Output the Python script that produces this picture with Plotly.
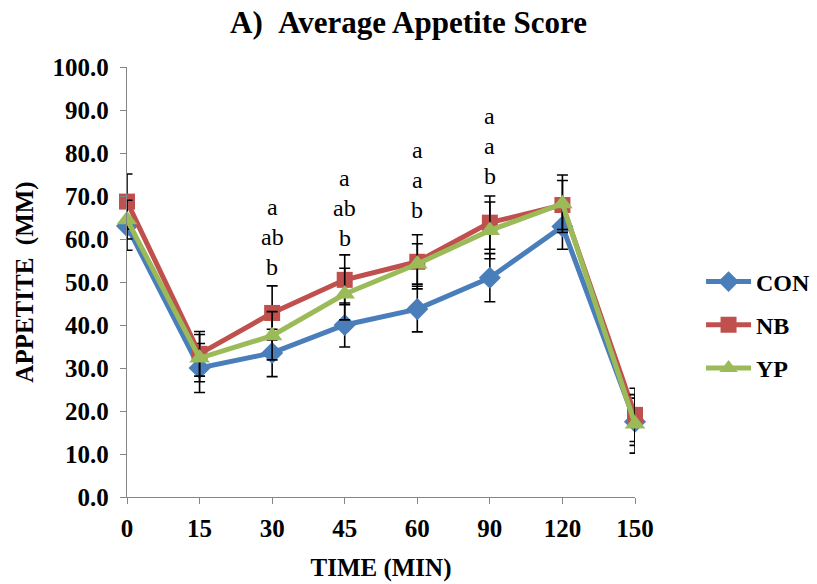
import plotly.graph_objects as go

# Sampling times (minutes) shown as evenly spaced categories
times = ["0", "15", "30", "45", "60", "90", "120", "150"]

# Mean appetite scores (mm) per group
con = [63.0, 30.0, 33.5, 40.0, 43.7, 51.0, 62.9, 17.5]
nb = [68.7, 33.3, 42.8, 50.5, 54.7, 63.8, 67.9, 19.1]
yp = [64.5, 32.3, 37.5, 47.2, 54.2, 62.0, 68.2, 17.0]

# Standard errors
con_se = [5.6, 5.7, 5.5, 5.1, 5.3, 5.6, 5.3, 5.5]
nb_se = [6.4, 5.2, 6.3, 5.8, 6.3, 6.2, 5.7, 6.2]
yp_se = [4.5, 5.5, 5.6, 6.0, 4.7, 6.6, 6.7, 6.8]

# Significance letters above selected time points (top to bottom)
sig_times = ["30", "45", "60", "90"]
sig_letters = [["a", "ab", "b"], ["a", "ab", "b"], ["a", "a", "b"], ["a", "a", "b"]]
sig_base = [53.5, 60.2, 66.7, 74.7]

series = [
    ("CON", con, con_se, "#4A7EBB", "diamond", 17),
    ("NB", nb, nb_se, "#C0504D", "square", 16),
    ("YP", yp, yp_se, "#9BBB59", "triangle-up", 18),
]

x_idx = list(range(len(times)))
serif = "Liberation Serif"

fig = go.Figure()
for name, vals, se, color, symbol, size in series:
    fig.add_trace(go.Scatter(
        x=x_idx, y=vals, name=name, mode="lines+markers",
        legendgroup=name,
        line=dict(color=color, width=5),
        marker=dict(symbol=symbol, size=size, color=color),
        error_y=dict(type="data", array=se, visible=True, color="black",
                     thickness=1.6, width=5.5),
        cliponaxis=False,
    ))

# Letters stacked above time points, spaced ~7 units apart
for t, letters, base in zip(sig_times, sig_letters, sig_base):
    xi = times.index(t)
    for k, letter in enumerate(letters):
        fig.add_annotation(
            x=xi, y=base + (len(letters) - 1 - k) * 7.0, text=letter,
            showarrow=False, xref="x", yref="y",
            font=dict(family=serif, size=24, color="black"),
        )

axis_color = "#868686"
bold = dict(family=serif, color="black", weight="bold")
fig.update_layout(
    width=817, height=584,
    margin=dict(l=127, r=182, t=67, b=87, autoexpand=False),
    paper_bgcolor="white", plot_bgcolor="white",
    title=dict(text="A)\u00a0\u00a0Average Appetite Score", x=0.5,
               xref="container", xanchor="center", y=0.962,
               yanchor="middle", font=dict(bold, size=31)),
    font=dict(family=serif, color="black"),
    showlegend=True,
    legend=dict(x=1.13, y=0.40, xanchor="left", yanchor="middle",
                traceorder="grouped", tracegroupgap=9,
                font=dict(bold, size=24),
                itemwidth=45),
    xaxis=dict(
        range=[0, 7], tickmode="array", tickvals=x_idx, ticktext=times,
        showline=True, linecolor=axis_color, linewidth=1.3,
        ticks="outside", ticklen=6, tickcolor=axis_color,
        showgrid=False, zeroline=False, ticklabelstandoff=3,
        tickfont=dict(bold, size=25),
        title=dict(text="TIME (MIN)", standoff=17,
                   font=dict(bold, size=25)),
    ),
    yaxis=dict(
        range=[0, 100], tickmode="array",
        tickvals=[i * 10 for i in range(11)],
        ticktext=[f"{i * 10:.1f}" for i in range(11)],
        showline=True, linecolor=axis_color, linewidth=1.3,
        ticks="outside", ticklen=6, tickcolor=axis_color,
        showgrid=False, zeroline=False, ticklabelstandoff=6,
        tickfont=dict(bold, size=25),
        title=dict(text="APPETITE\u00a0\u00a0(MM)", standoff=11,
                   font=dict(bold, size=25)),
    ),
)

fig.write_html("out.html")
